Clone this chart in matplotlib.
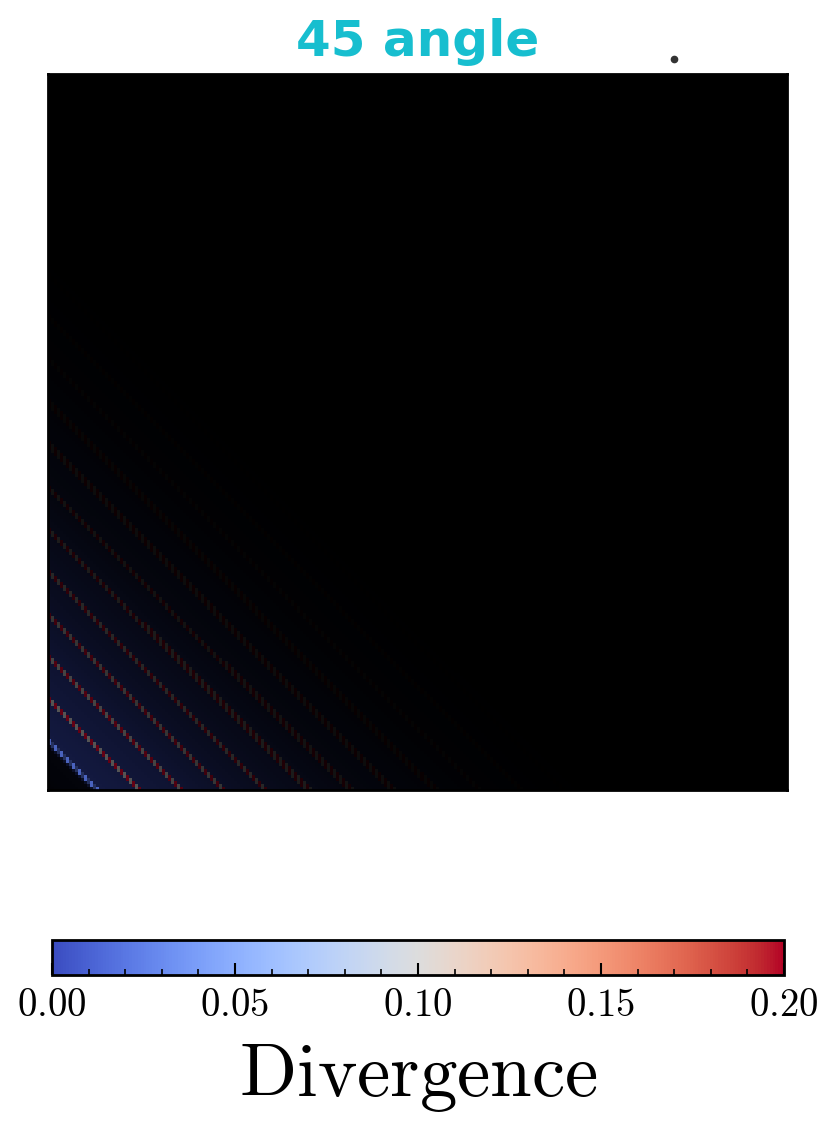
import numpy as np
import matplotlib
matplotlib.use('Agg')
import matplotlib.pyplot as plt
from matplotlib.ticker import MultipleLocator, FuncFormatter

plt.rcParams['mathtext.fontset'] = 'cm'

# ---- data (distances are x+y in pixels from lower-left corner)
stripe_s = [50, 91, 133, 176, 218, 261, 303, 346, 388, 431, 473, 516, 558]
stripe_val = [0.02, 0.2, 0.2, 0.2, 0.2, 0.2, 0.2, 0.2, 0.2, 0.2, 0.2, 0.2, 0.2]
stripe_alpha = [0.85, 0.55, 0.45, 0.35, 0.26, 0.18, 0.12, 0.08, 0.05, 0.03, 0.02, 0.01, 0.005]
fade_s = [0, 42, 48, 70, 130, 200, 300, 400, 500, 620]
fade_alpha = [0.04, 0.06, 0.34, 0.32, 0.26, 0.17, 0.08, 0.03, 0.01, 0.0]
cbar_ticks = [0.0, 0.05, 0.10, 0.15, 0.20]
title = '45 angle'

W, H = 739, 716   # axes size in px
n = 246
m = int(n * H / W)
u = (np.arange(n) + 0.5) / n * W
v = (np.arange(m) + 0.5) / m * H
U, V = np.meshgrid(u, v)
S = U + V
I, J = np.meshgrid(np.arange(n), np.arange(m))

val = np.zeros_like(S)
alpha = np.interp(S, fade_s, fade_alpha)
for s0, sv, sa in zip(stripe_s, stripe_val, stripe_alpha):
    band = np.abs(S - s0) < 3.6
    if sv > 0.1:
        val[band] = np.where(I[band] % 2 == 0, sv, 0.1)
        alpha[band] = np.where(I[band] % 2 == 0, sa, sa * 0.7)
    else:
        val[band] = sv
        alpha[band] = np.where(I[band] % 2 == 0, sa, sa * 0.5)

cmap = plt.get_cmap('coolwarm')
norm = matplotlib.colors.Normalize(0, 0.2)
rgba = cmap(norm(val))
rgba[..., 3] = alpha

fig = plt.figure(figsize=(8.36, 11.27), dpi=100)
ax = fig.add_axes([48/836, 1-790/1127, 739/836, 716/1127])
ax.set_facecolor('black')
ax.imshow(rgba, origin='lower', extent=[0, W, 0, H], aspect='auto', interpolation='nearest')
ax.set_xlim(0, W)
ax.set_ylim(0, H)
ax.set_xticks([])
ax.set_yticks([])
for sp in ax.spines.values():
    sp.set_linewidth(2)
    sp.set_color('black')
ax.set_title(title, color='#17becf', fontsize=36, fontweight='bold', pad=13)

# stray marker above the axes
fig.add_artist(plt.Line2D([674/836], [1-59/1127], marker='o', markersize=4.5,
                          color='#333333', transform=fig.transFigure))

cax = fig.add_axes([52/836, 1-975/1127, 732/836, 35/1127])
sm = matplotlib.cm.ScalarMappable(norm=norm, cmap=cmap)
cb = fig.colorbar(sm, cax=cax, orientation='horizontal')
cb.set_ticks(cbar_ticks)
cax.xaxis.set_minor_locator(MultipleLocator(0.01))
cax.xaxis.set_major_formatter(FuncFormatter(lambda x, p: r'$%.2f$' % x))
cax.tick_params(axis='x', which='major', direction='in', length=9, width=1.5, labelsize=28, pad=8)
cax.tick_params(axis='x', which='minor', direction='in', length=4.5, width=1.2)
cb.outline.set_linewidth(2)
cb.set_label(r'$\mathrm{Divergence}$', fontsize=54, labelpad=12)

fig.savefig('out.png', dpi=100)
